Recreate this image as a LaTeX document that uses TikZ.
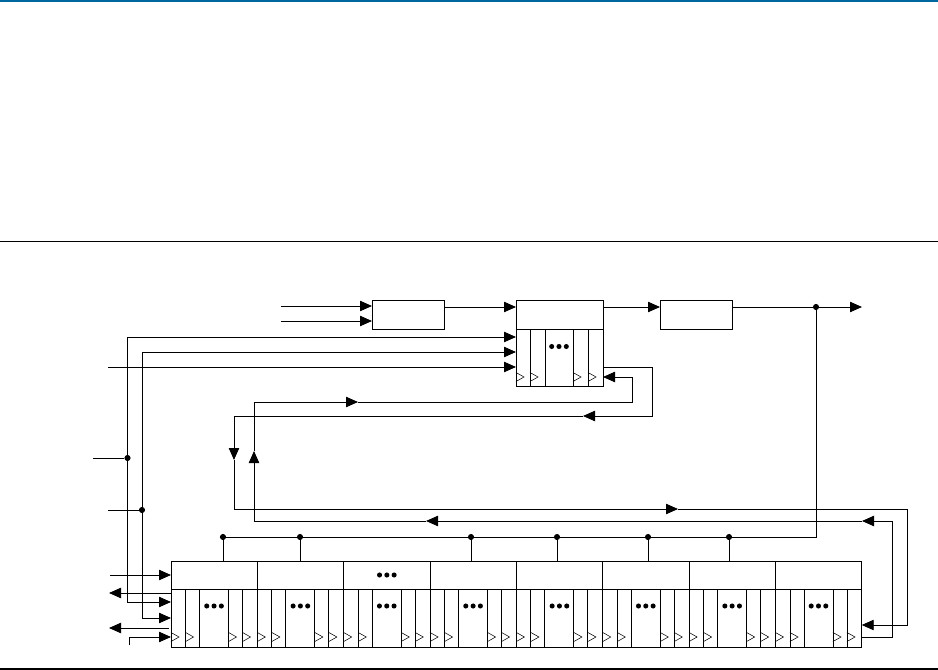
\documentclass[tikz,border=0pt]{standalone}
\usepackage{xcolor}
\usepackage{tikz}
\usetikzlibrary{arrows.meta,positioning}
\definecolor{barblue}{RGB}{0,103,158}

\begin{document}
\begin{tikzpicture}[
  x=0.75pt, y=-0.75pt,
  >={Triangle[length=9pt,width=7.8pt]},
  line width=0.7pt,
  every node/.style={outer sep=0pt, inner sep=0pt},
  block/.style={draw, minimum width=54pt, minimum height=21.75pt},
  regtop/.style={draw, minimum width=64.7pt, minimum height=21pt, anchor=north west},
  cell/.style={draw, minimum height=43.5pt},
  midcell/.style={draw, minimum height=42.75pt},
  junc/.style={circle, fill=black, minimum size=4.6pt},
  clkline/.style={line width=0.4pt},
]
\useasboundingbox (0,0) rectangle (938,670);

% Page rules
\fill[barblue] (0,0) rectangle (938,2.4);
\draw[line width=0.5pt] (0,241) -- (938,241);
\draw[line width=1.1pt] (0,669) -- (938,669);

% Upper row
\node[block, anchor=north west] (inreg) at (372,300.5) {};
\node[block, minimum width=65.25pt, right=54pt of inreg] (midreg) {};
\node[block, right=42.75pt of midreg] (outreg) {};

% Cells under the middle block
\node[midcell, minimum width=10.5pt, below=0pt of midreg.south west, anchor=north west] (ma) {};
\node[midcell, minimum width=11.25pt, right=0pt of ma] (mb) {};
\node[midcell, minimum width=21pt, right=0pt of mb] (mc) {};
\node[midcell, minimum width=11.25pt, right=0pt of mc] (md) {};
\node[midcell, minimum width=11.25pt, right=0pt of md] (me) {};
\foreach \c in {ma,mb,md,me}
  \draw[clkline] (\c.south west) ++(0,-5) -- ++(8,-4.5) -- ++(-8,-4.5);
\foreach \d in {-7.3,0,7.3}
  \fill ([xshift=\d*0.75pt]mc.north) ++(0,17) circle[radius=1.9pt];

% Lower row
\foreach \i in {0,...,7} {
  \node[regtop] (top\i) at (171+86.35*\i,561) {};
  \node[cell, minimum width=10.9pt, anchor=north west] (a\i) at (top\i.south west) {};
  \node[cell, minimum width=10.5pt, right=0pt of a\i] (b\i) {};
  \node[cell, minimum width=21.75pt, right=0pt of b\i] (c\i) {};
  \node[cell, minimum width=10.5pt, right=0pt of c\i] (d\i) {};
  \node[cell, minimum width=11.05pt, right=0pt of d\i] (e\i) {};
  \foreach \c in {a,b,d,e}
    \draw[clkline] (\c\i.south west) ++(0,-5.5) -- ++(8,-4.5) -- ++(-8,-4.5);
  \foreach \d in {-7.3,0,7.3}
    \fill ([xshift=\d*0.75pt]c\i.north) ++(0,17) circle[radius=1.9pt];
}
\foreach \d in {-7.3,0,7.3}
  \fill ([xshift=\d*0.75pt]top2.center) circle[radius=1.9pt];

% Junctions
\node[junc] (jout) at (816,307) {};
\node[junc] (jclk) at (127.5,458) {};
\node[junc] (jen) at (142,510) {};
\node[junc] (j0) at (223,537) {};
\node[junc] (j1) at (300,537) {};
\node[junc] (j3) at (471,537) {};
\node[junc] (j4) at (557,537) {};
\node[junc] (j5) at (648,537) {};
\node[junc] (j6) at (729,537) {};

% Free ends
\coordinate (ina) at (281,306);
\coordinate (inb) at (281,321);
\coordinate (inc) at (108,367);
\coordinate (clkin) at (93,458);
\coordinate (enin) at (108,510);
\coordinate (dout) at (862,307);
\coordinate (pa) at (110,575);
\coordinate (pb) at (109,593);
\coordinate (pc) at (109,628);
\coordinate (pd) at (129,645);
\coordinate (bus) at (816,537);

% Upper connectors
\draw[->] (ina) -- (ina -| inreg.west);
\draw[->] (inb) -- (inb -| inreg.west);
\draw[->] (inreg.east |- 0,307) -- (midreg.west |- 0,307);
\draw[->] (midreg.east |- 0,307) -- (outreg.west |- 0,307);
\draw[->] (outreg.east |- 0,307) -- (dout);
\draw (jout) -- (bus) -- (j0);
\foreach \i in {0,1,3,4,5,6}
  \draw (j\i) -- (j\i |- top\i.north);

% Left connectors
\draw (clkin) -- (jclk);
\draw (enin) -- (jen);
\draw[->] (jclk) |- (ma.west |- 0,337);
\draw[->] (jclk) |- (a0.west |- 0,602);
\draw[->] (jen) |- (ma.west |- 0,352);
\draw[->] (jen) |- (a0.west |- 0,618);
\draw[->] (inc) -- (inc -| ma.west);
\draw[->] (pa) -- (pa -| top0.west);
\draw[->] (pb -| a0.west) -- (pb);
\draw[->] (169,628) -- (pc);
\draw[->] (pd) |- (a0.west |- 0,637);

% Feedback loops
\coordinate (fa) at (583,416);
\coordinate (fb) at (234,460);
\coordinate (fc) at (678,509);
\coordinate (ga) at (862,521);
\coordinate (gb) at (426,521);
\coordinate (gc) at (254,451);
\coordinate (gd) at (358,402);
\draw[->] (me.east |- 0,367) -- (652,367) -- (652,416) -- (fa);
\draw[->] (fa) -- (234,416) -- (fb);
\draw[->] (fb) -- (234,509) -- (fc);
\draw[->] (fc) -- (907,509) -- (907,625) -- (e7.east |- 0,625);
\draw[->] (e7.east |- 0,637) -- (892,637) -- (892,521) -- (ga);
\draw[->] (ga) -- (gb);
\draw[->] (gb) -- (254,521) -- (gc);
\draw[->] (gc) -- (254,402) -- (gd);
\draw[->] (gd) -- (632,402) -- (632,377) -- (me.east |- 0,377);
\end{tikzpicture}
\end{document}
